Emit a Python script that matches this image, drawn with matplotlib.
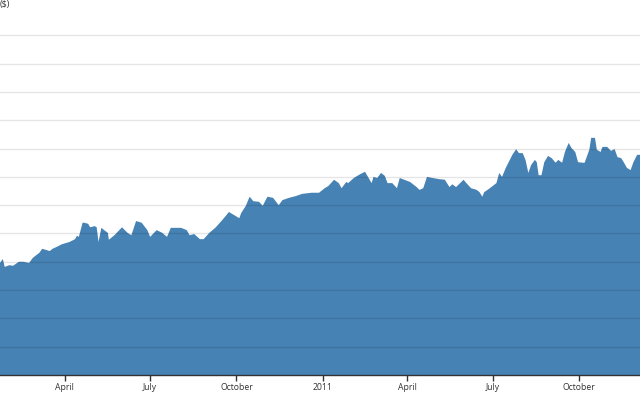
import pandas as pd
import matplotlib
matplotlib.use('Agg')
import matplotlib.pyplot as plt

plt.rcParams['font.family'] = ['Open Sans', 'DejaVu Sans']

# closing price ($)
dates = ['2010-01-22', '2010-01-25', '2010-01-27', '2010-02-01', '2010-02-05', '2010-02-11',
         '2010-02-16', '2010-02-22', '2010-02-26', '2010-03-05', '2010-03-08', '2010-03-12',
         '2010-03-16', '2010-03-19', '2010-03-23', '2010-03-29', '2010-04-06', '2010-04-12',
         '2010-04-14', '2010-04-16', '2010-04-20', '2010-04-22', '2010-04-26', '2010-04-28',
         '2010-05-03', '2010-05-05', '2010-05-07', '2010-05-10', '2010-05-13', '2010-05-17',
         '2010-05-18', '2010-05-24', '2010-06-01', '2010-06-07', '2010-06-11', '2010-06-16',
         '2010-06-22', '2010-06-28', '2010-07-01', '2010-07-08', '2010-07-14', '2010-07-19',
         '2010-07-23', '2010-07-29', '2010-08-03', '2010-08-09', '2010-08-12', '2010-08-17',
         '2010-08-23', '2010-08-27', '2010-09-02', '2010-09-09', '2010-09-16', '2010-09-23',
         '2010-09-28', '2010-10-04', '2010-10-06', '2010-10-11', '2010-10-15', '2010-10-19',
         '2010-10-25', '2010-10-29', '2010-11-03', '2010-11-09', '2010-11-15', '2010-11-19',
         '2010-11-26', '2010-12-03', '2010-12-10', '2010-12-20', '2010-12-28', '2011-01-03',
         '2011-01-07', '2011-01-13', '2011-01-18', '2011-01-21', '2011-01-26', '2011-01-28',
         '2011-02-03', '2011-02-10', '2011-02-15', '2011-02-22', '2011-02-24', '2011-02-28',
         '2011-03-04', '2011-03-08', '2011-03-11', '2011-03-16', '2011-03-21', '2011-03-24',
         '2011-04-04', '2011-04-11', '2011-04-14', '2011-04-18', '2011-04-22', '2011-04-28',
         '2011-05-05', '2011-05-11', '2011-05-16', '2011-05-19', '2011-05-23', '2011-05-31',
         '2011-06-03', '2011-06-08', '2011-06-14', '2011-06-17', '2011-06-20', '2011-06-22',
         '2011-06-28', '2011-07-05', '2011-07-08', '2011-07-11', '2011-07-15', '2011-07-22',
         '2011-07-26', '2011-07-29', '2011-08-02', '2011-08-05', '2011-08-08', '2011-08-11',
         '2011-08-15', '2011-08-17', '2011-08-19', '2011-08-22', '2011-08-25', '2011-08-29',
         '2011-09-02', '2011-09-06', '2011-09-09', '2011-09-13', '2011-09-16', '2011-09-20',
         '2011-09-23', '2011-09-27', '2011-09-30', '2011-10-05', '2011-10-07', '2011-10-12',
         '2011-10-14', '2011-10-18', '2011-10-20', '2011-10-24', '2011-10-26', '2011-10-31',
         '2011-11-04', '2011-11-08', '2011-11-11', '2011-11-15', '2011-11-18', '2011-11-21',
         '2011-11-25', '2011-11-28', '2011-12-02', '2011-12-05']
close = [198, 205, 191, 194, 193, 200,
         200, 198, 207, 216, 223, 221,
         219, 223, 226, 231, 235, 240,
         246, 244, 269, 269, 267, 261,
         263, 261, 235, 260, 256, 251,
         239, 247, 261, 251, 247, 272,
         269, 256, 244, 256, 251, 244,
         260, 260, 260, 256, 247, 249,
         240, 240, 251, 261, 274, 288,
         283, 277, 286, 299, 315, 307,
         306, 299, 315, 313, 300, 309,
         313, 316, 320, 322, 322, 330,
         334, 345, 339, 330, 341, 339,
         348, 355, 359, 339, 350, 348,
         357, 352, 339, 339, 330, 348,
         341, 332, 327, 330, 350, 348,
         346, 345, 332, 337, 332, 345,
         339, 330, 327, 323, 315, 323,
         330, 339, 357, 350, 366, 389,
         399, 392, 392, 380, 357, 371,
         380, 376, 353, 353, 376, 387,
         383, 375, 380, 375, 394, 410,
         401, 394, 376, 375, 375, 398,
         419, 419, 398, 394, 403, 403,
         396, 399, 385, 383, 375, 366,
         362, 376, 389, 389]

tick_dates = ['2010-04-01', '2010-07-01', '2010-10-01', '2011-01-01',
              '2011-04-01', '2011-07-01', '2011-10-01']
tick_labels = ['April', 'July', 'October', '2011', 'April', 'July', 'October']

dates = pd.to_datetime(dates)

fig = plt.figure(figsize=(6.4, 4), dpi=100)
ax = fig.add_axes([0, 0.0625, 1, 0.9375])

ax.fill_between(dates, 0, close, color='steelblue', lw=0)

ax.set_xlim(pd.Timestamp('2010-01-22'), pd.Timestamp('2011-12-05'))
ax.set_ylim(0, 662.5)

# gridlines sit on top of the area
ax.set_yticks(range(50, 601, 50))
ax.yaxis.grid(True, color='black', alpha=0.1, lw=1)
ax.set_axisbelow(False)
ax.tick_params(axis='y', left=False, labelleft=False)

ax.set_xticks(pd.to_datetime(tick_dates))
ax.set_xticklabels(tick_labels)
ax.tick_params(axis='x', length=4, width=1, color='#333333', labelsize=6.2,
               labelcolor='#333333', pad=2)

for s in ['top', 'right', 'left']:
    ax.spines[s].set_visible(False)
ax.spines['bottom'].set_color('#333333')
ax.spines['bottom'].set_linewidth(1)

fig.text(0, 1 - 5 / 400, '($)', fontsize=6.5, color='#333333', va='center', ha='left')

fig.savefig('out.png', dpi=100)
